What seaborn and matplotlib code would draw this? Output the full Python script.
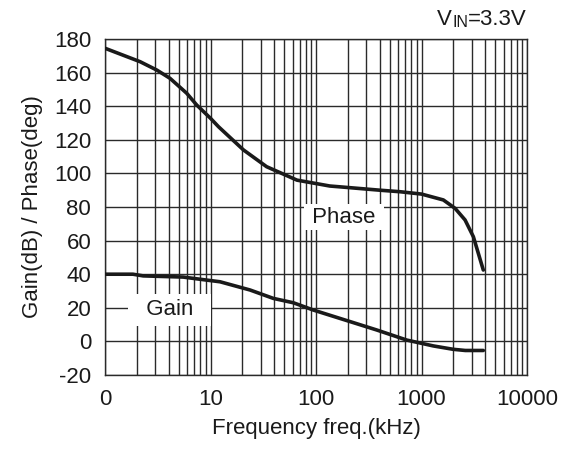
import numpy as np
import pandas as pd
import matplotlib
matplotlib.use("Agg")
import matplotlib.pyplot as plt
import seaborn as sns

# Values
phase_freq = [1, 2.15, 3.1, 4.13, 5.95, 7.4, 10, 11.9, 20.5, 34, 66, 135, 169, 404, 625,
              1000, 1610, 2080, 2585, 3100, 3850]
phase_deg = [174.5, 166.5, 161.5, 156.6, 147.7, 140.7, 132.8, 127.8, 114, 104, 96, 92.5, 92,
             90, 89.1, 87.7, 84.2, 79.2, 72.3, 62.3, 42.5]

gain_freq = [1, 1.84, 2.3, 5.5, 7.95, 12.3, 23.7, 39.4, 61, 94, 210, 376, 724, 1295, 1995,
             2600, 3850]
gain_db = [40, 40, 39, 38.3, 37, 35.5, 30.6, 25.6, 23, 18.7, 11.8, 6.8, 0.8, -2.7, -4.7,
           -5.4, -5.4]

x_ticks = [1, 10, 100, 1000, 10000]
x_ticklabels = ['0', '10', '100', '1000', '10000']
y_ticks = list(range(-20, 181, 20))

sns.set_style("white")
plt.rcParams['font.family'] = ['Liberation Sans', 'DejaVu Sans']
plt.rcParams['axes.unicode_minus'] = False

FS = 16
INK = '#1a1a1a'

fig = plt.figure(figsize=(5.72, 4.49), dpi=100)
ax = fig.add_axes([0.1836, 0.1648, 0.7378, 0.7483])

phase_df = pd.DataFrame({'freq': phase_freq, 'val': phase_deg})
gain_df = pd.DataFrame({'freq': gain_freq, 'val': gain_db})

sns.lineplot(data=phase_df, x='freq', y='val', ax=ax, color=INK, lw=2.6, zorder=5)
sns.lineplot(data=gain_df, x='freq', y='val', ax=ax, color=INK, lw=2.6, zorder=5)

ax.set_xscale('log')
ax.set_xlim(1, 10000)
ax.set_ylim(-20, 180)
ax.set_xticks(x_ticks)
ax.set_xticklabels(x_ticklabels)
ax.set_yticks(y_ticks)
ax.xaxis.set_minor_locator(matplotlib.ticker.LogLocator(base=10, subs=np.arange(2, 10)))
ax.xaxis.set_minor_formatter(matplotlib.ticker.NullFormatter())
ax.tick_params(axis='both', which='both', length=0, labelsize=FS, colors=INK, pad=10)

ax.grid(True, which='both', axis='x', color='#2a2a2a', lw=1.0)
ax.grid(True, which='major', axis='y', color='#2a2a2a', lw=1.0)
ax.set_axisbelow(True)
for s in ax.spines.values():
    s.set_color('#2a2a2a')
    s.set_linewidth(1.0)

ax.set_xlabel('Frequency freq.(kHz)', fontsize=FS, color=INK, labelpad=6)
ax.set_ylabel('Gain(dB) / Phase(deg)', fontsize=FS, color=INK, labelpad=8)

ax.text(184, 74, ' Phase ', fontsize=FS, ha='center', va='center',
        bbox=dict(facecolor='white', edgecolor='none', pad=2), zorder=6, color=INK)
ax.text(4.1, 18.7, '  Gain  ', fontsize=FS, ha='center', va='center',
        bbox=dict(facecolor='white', edgecolor='none', pad=4), zorder=6, color=INK)

# title "VIN=3.3V" with small-caps IN
t1 = fig.text(0.921, 1 - 25 / 449, '=3.3V', fontsize=FS, ha='right', va='baseline', color=INK)
t2 = ax.annotate('IN', xy=(0, 0), xycoords=t1, fontsize=11.5, ha='right', va='bottom', color=INK,
                 annotation_clip=False)
ax.annotate('V', xy=(0, 0), xycoords=t2, fontsize=FS, ha='right', va='bottom', color=INK,
            annotation_clip=False)

fig.savefig('out.png', dpi=100)
